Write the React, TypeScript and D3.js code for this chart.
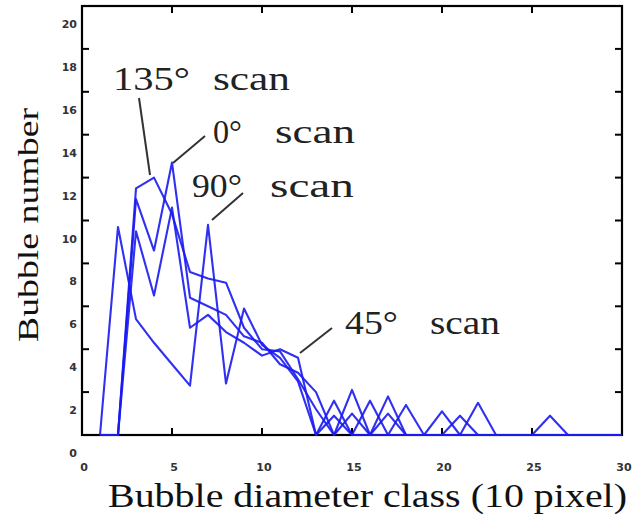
import React from "react";
import * as d3 from "d3";

// diameter classes (10 pixel)
const classes = [1, 2, 3, 4, 5, 6, 7, 8, 9, 10, 11, 12, 13, 14, 15, 16, 17, 18, 19, 20, 21, 22, 23, 24, 25, 26, 27, 28, 29, 30];

const scan90 = [0, 9.7, 5.4, 4.3, 3.3, 2.3, 9.8, 2.4, 5.9, 4.2, 3.6, 2.5, 0, 1.6, 0, 1.6, 0, 1.4, 0, 0, 0.9, 0, 0, 0, 0, 0, 0, 0, 0, 0];
const scan135 = [0, 0, 11.5, 12.0, 10.3, 7.6, 7.3, 7.1, 5.0, 4.0, 3.9, 2.6, 1.2, 0, 2.1, 0, 1.8, 0, 0, 1.1, 0, 0, 0, 0, 0, 0, 0, 0, 0, 0];
const scan0 = [0, 0, 11.0, 8.6, 12.7, 6.4, 6.0, 5.6, 4.6, 4.3, 3.3, 2.9, 2.0, 0, 1.0, 0, 1.0, 0, 0, 0, 0, 1.5, 0, 0, 0, 0, 0, 0, 0, 0];
const scan45 = [0, 0, 9.5, 6.5, 10.6, 5.0, 5.6, 4.8, 4.3, 3.7, 4.0, 3.6, 0, 0.9, 0, 0, 0, 0, 0, 0, 0, 0, 0, 0, 0, 0.9, 0, 0, 0, 0];

const series = [scan90, scan135, scan0, scan45];

const xTicks = [0, 5, 10, 15, 20, 25, 30];
const yTicks = [0, 2, 4, 6, 8, 10, 12, 14, 16, 18, 20];

// annotation labels and their pointer lines
const labels = [
  { deg: "135\u00b0", tx: 113, dw: 77, ty: 90, sx: 213, sw: 77, px: 150, py: 175, lx: 139, ly: 98 },
  { deg: "0\u00b0", tx: 213, dw: 29, ty: 143, sx: 275, sw: 80, px: 173, py: 163, lx: 205, ly: 136 },
  { deg: "90\u00b0", tx: 192, dw: 50, ty: 197, sx: 270, sw: 84, px: 212, py: 220, lx: 243, ly: 193 },
  { deg: "45\u00b0", tx: 345, dw: 53, ty: 334, sx: 430, sw: 70, px: 300, py: 353, lx: 332, ly: 328 },
];

export default function App() {
  const x = d3.scaleLinear().domain([0, 30]).range([82, 622]);
  const y = d3.scaleLinear().domain([0, 20]).range([435, 6]);

  const line = d3
    .line<number>()
    .x((d, i) => x(classes[i]))
    .y((d) => y(d));

  const tickLen = 7;

  return (
    <svg
      width={642}
      height={521}
      style={{ position: "absolute", left: 0, top: 0, background: "#fff" }}
    >
      {/* frame */}
      <rect x={x(0)} y={y(20)} width={x(30) - x(0)} height={y(0) - y(20)} fill="none" stroke="#000" strokeWidth={2.2} />

      {/* ticks */}
      <g stroke="#000" strokeWidth={2}>
        {xTicks.slice(1, -1).map((t) => (
          <g key={"x" + t}>
            <line x1={x(t)} x2={x(t)} y1={y(0)} y2={y(0) - tickLen} />
            <line x1={x(t)} x2={x(t)} y1={y(20)} y2={y(20) + tickLen} />
          </g>
        ))}
        {yTicks.slice(1, -1).map((t) => (
          <g key={"y" + t}>
            <line x1={x(0)} x2={x(0) + tickLen} y1={y(t)} y2={y(t)} />
            <line x1={x(30)} x2={x(30) - tickLen} y1={y(t)} y2={y(t)} />
          </g>
        ))}
      </g>

      {/* data lines */}
      <g fill="none" stroke="#1a1af2" strokeWidth={2.1} strokeLinejoin="round" strokeOpacity={0.9}>
        {series.map((s, i) => (
          <path key={i} d={line(s) || ""} />
        ))}
      </g>

      {/* tick labels */}
      <g fontFamily="'DejaVu Sans', sans-serif" fontWeight="bold" fontSize={11} fill="#333">
        {xTicks.map((t) => (
          <text key={"xl" + t} x={x(t) + 2} y={471} textAnchor="middle">
            {t}
          </text>
        ))}
        {yTicks.map((t) => (
          <text key={"yl" + t} x={77} y={y(t) + 22} textAnchor="end">
            {t}
          </text>
        ))}
      </g>

      {/* annotations */}
      <g fontFamily="'Liberation Serif', 'Times New Roman', serif" fill="#222">
        {labels.map((l) => (
          <g key={l.deg}>
            <text x={l.tx} y={l.ty} fontSize={34} textLength={l.dw} lengthAdjust="spacingAndGlyphs">
              {l.deg}
            </text>
            <text x={l.sx} y={l.ty} fontSize={34} textLength={l.sw} lengthAdjust="spacingAndGlyphs">
              scan
            </text>
            <line x1={l.lx} y1={l.ly} x2={l.px} y2={l.py} stroke="#333" strokeWidth={2} />
          </g>
        ))}
      </g>

      {/* axis titles */}
      <text
        transform="translate(38,225) rotate(-90)"
        textAnchor="middle"
        fontFamily="'Liberation Serif', 'Times New Roman', serif"
        fontSize={30}
        fill="#111"
        textLength={234}
        lengthAdjust="spacingAndGlyphs"
      >
        Bubble number
      </text>
      <text
        x={108}
        y={507}
        fontFamily="'Liberation Serif', 'Times New Roman', serif"
        fontSize={33}
        fill="#111"
        textLength={519}
        lengthAdjust="spacingAndGlyphs"
      >
        Bubble diameter class (10 pixel)
      </text>
    </svg>
  );
}
